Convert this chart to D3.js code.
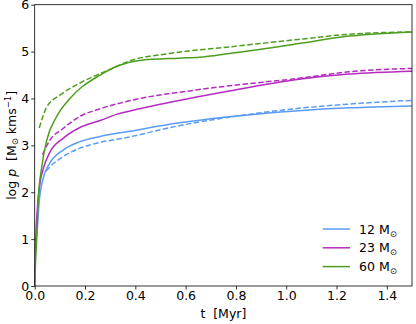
<!DOCTYPE html>
<html>
<head>
<meta charset="utf-8">
<script src="https://cdn.jsdelivr.net/npm/d3@7"></script>
<style>
  body { margin: 0; background: #fff; }
  text { font-family: "DejaVu Sans", sans-serif; }
</style>
</head>
<body>
<script>
// momentum curves, [t in Myr, log p]
const m12_solid = [[0,0],[0.003,0.7],[0.01,1.2],[0.018,1.8],[0.034,2.3],[0.06,2.62],[0.113,2.9],[0.18,3.08],[0.26,3.19],[0.377,3.3],[0.575,3.48],[0.773,3.61],[1.05,3.74],[1.25,3.8],[1.5,3.84]];
const m12_dash = [[0.045,2.45],[0.06,2.54],[0.113,2.76],[0.18,2.94],[0.22,3.01],[0.377,3.18],[0.575,3.42],[0.773,3.6],[1.05,3.79],[1.25,3.88],[1.5,3.96]];
const m23_solid = [[0,0],[0.003,0.8],[0.01,1.62],[0.021,2.19],[0.034,2.5],[0.06,2.85],[0.113,3.15],[0.18,3.38],[0.26,3.53],[0.325,3.66],[0.417,3.78],[0.655,4.04],[0.773,4.16],[1.05,4.41],[1.25,4.52],[1.5,4.58]];
const m23_dash = [[0.031,2.8],[0.06,3.11],[0.113,3.36],[0.18,3.62],[0.26,3.78],[0.377,3.95],[0.655,4.19],[0.773,4.27],[1.05,4.43],[1.25,4.57],[1.5,4.64]];
const m60_solid = [[0,0],[0.004,0.6],[0.008,1.0],[0.014,1.83],[0.028,2.54],[0.048,3.11],[0.087,3.61],[0.14,4.0],[0.26,4.5],[0.338,4.71],[0.417,4.81],[0.575,4.86],[0.655,4.88],[0.773,4.96],[1.05,5.17],[1.25,5.33],[1.5,5.42]];
const m60_dash = [[0.018,3.37],[0.048,3.82],[0.1,4.07],[0.18,4.33],[0.3,4.62],[0.377,4.8],[0.536,4.96],[0.773,5.1],[1.05,5.26],[1.25,5.37],[1.5,5.42]];

const masses = ["12", "23", "60"];
const colors = ["#5b9bf5", "#b52bc0", "#4d9e1f"];
const xTicks = [0, 0.2, 0.4, 0.6, 0.8, 1.0, 1.2, 1.4];
const yTicks = [0, 1, 2, 3, 4, 5, 6];

const W = 416, H = 324;
const L = 34.7, R = 412, T = 4.7, B = 286;

const svg = d3.select("body").append("svg")
  .attr("width", W)
  .attr("height", H);

const x = d3.scaleLinear().domain([0, 1.5]).range([L, R]);
const y = d3.scaleLinear().domain([0, 6]).range([B, T]);

const line = d3.line()
  .x(d => x(d[0]))
  .y(d => y(d[1]))
  .curve(d3.curveMonotoneX);

const series = [
  {data: m12_dash, c: 0, dash: true},
  {data: m23_dash, c: 1, dash: true},
  {data: m60_dash, c: 2, dash: true},
  {data: m12_solid, c: 0, dash: false},
  {data: m23_solid, c: 1, dash: false},
  {data: m60_solid, c: 2, dash: false}
];

svg.append("defs").append("clipPath").attr("id", "clip")
  .append("rect").attr("x", L).attr("y", T).attr("width", R - L).attr("height", B - T);

svg.append("g").attr("clip-path", "url(#clip)")
  .selectAll("path")
  .data(series)
  .join("path")
  .attr("d", d => line(d.data))
  .attr("fill", "none")
  .attr("stroke", d => colors[d.c])
  .attr("stroke-width", 1.5)
  .attr("stroke-dasharray", d => d.dash ? "5.5,2.4" : null);

// axes
const xAxis = svg.append("g")
  .attr("transform", `translate(0,${B})`)
  .call(d3.axisBottom(x).tickValues(xTicks).tickFormat(d3.format(".1f")).tickSizeOuter(0).tickSize(3.5));
const yAxis = svg.append("g")
  .attr("transform", `translate(${L},0)`)
  .call(d3.axisLeft(y).tickValues(yTicks).tickFormat(d3.format("d")).tickSizeOuter(0).tickSize(3.5));

[xAxis, yAxis].forEach(a => {
  a.select(".domain").remove();
  a.selectAll("line").attr("stroke", "#000").attr("stroke-width", 0.8);
  a.selectAll("text").attr("font-size", 12.5).attr("fill", "#000")
    .attr("font-family", "DejaVu Sans");
});
xAxis.selectAll("text").attr("dy", "0.71em").attr("y", 5);
yAxis.selectAll("text").attr("x", -5.5);

// frame
svg.append("rect")
  .attr("x", L).attr("y", T)
  .attr("width", R - L).attr("height", B - T)
  .attr("fill", "none")
  .attr("stroke", "#000")
  .attr("stroke-width", 0.8);

// axis labels
svg.append("text")
  .attr("x", (L + R) / 2)
  .attr("y", 318)
  .attr("text-anchor", "middle")
  .attr("font-size", 12.5)
  .attr("xml:space", "preserve")
  .text("t  [Myr]");

const yl = svg.append("text")
  .attr("transform", `translate(16,${(T + B) / 2}) rotate(-90)`)
  .attr("text-anchor", "middle")
  .attr("font-size", 12.5);
yl.append("tspan").text("log ");
yl.append("tspan").attr("font-style", "italic").text("p");
yl.append("tspan").attr("xml:space", "preserve").text("  [M");
yl.append("tspan").attr("font-size", 8.5).attr("dy", 2).text("⊙");
yl.append("tspan").attr("dy", -2).text(" kms");
yl.append("tspan").attr("font-size", 8.5).attr("dy", -5).text("−1");
yl.append("tspan").attr("dy", 5).text("]");

// legend
const leg = svg.append("g");
const rows = leg.selectAll("g")
  .data(masses)
  .join("g")
  .attr("transform", (d, i) => `translate(0,${229 + i * 18.8})`);
rows.append("line")
  .attr("x1", 322.7).attr("x2", 350)
  .attr("stroke", (d, i) => colors[i])
  .attr("stroke-width", 1.5);
const lt = rows.append("text")
  .attr("x", 359)
  .attr("y", 4.5)
  .attr("font-size", 12.5);
lt.append("tspan").text(d => d + " M");
lt.append("tspan").attr("font-size", 8.5).attr("dy", 3).text("⊙");
</script>
</body>
</html>
